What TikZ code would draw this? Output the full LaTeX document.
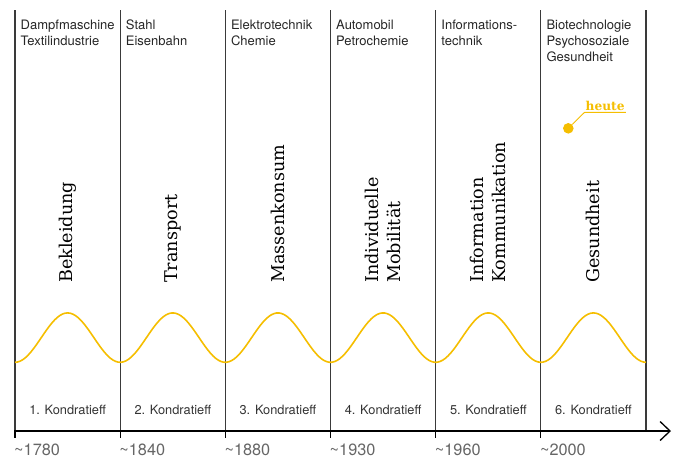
\documentclass[tikz,border=0pt]{standalone}
\usepackage{fontspec}
\usepackage{tikz}
\usetikzlibrary{arrows.meta}
\newfontfamily\epochfont{TeX Gyre Heros}
\newfontfamily\themefont{DejaVu Serif}
\definecolor{wellengelb}{HTML}{F5BE00}
\definecolor{trenngrau}{HTML}{3A3A3A}
\tikzset{
	trenner/.style={line width=1.1pt, color=trenngrau},
	zeitachse/.style={line width=1.3pt, color=black, -{Straight Barb[length=10pt,width=19pt,line width=1.3pt]}},
	strich/.style={line width=1.3pt, color=black},
	welle/.style={line width=1.6pt, color=wellengelb},
	branche/.style={anchor=north west, inner sep=0pt, align=left, color=black!85, font=\epochfont\fontsize{13}{16}\selectfont},
	zyklus/.style={anchor=base, inner sep=0pt, color=black!80, font=\epochfont\fontsize{12.8}{15}\selectfont},
	jahr/.style={anchor=base west, inner sep=0pt, color=black!60, font=\epochfont\fontsize{16.3}{20}\selectfont},
	thema/.style={anchor=west, rotate=90, inner sep=0pt, align=left, color=black, font=\themefont\fontsize{17.6}{22}\selectfont},
	heutetext/.style={anchor=base west, inner xsep=1pt, inner ysep=2pt, color=wellengelb, font=\themefont\bfseries\fontsize{12.2}{14}\selectfont},
	heutepunkt/.style={circle, fill=wellengelb, inner sep=0pt, minimum size=10.6pt}
}

\begin{document}
\begin{tikzpicture}[x=1pt, y=-1pt]
			%%%%% START %%%%%
			\useasboundingbox (0,0) rectangle (679,459);
			
			\draw[trenner] (15, 10) -- (15, 431);
			\draw[trenner] (120.2, 10) -- (120.2, 431);
			\draw[trenner] (225.3, 10) -- (225.3, 431);
			\draw[trenner] (330.5, 10) -- (330.5, 431);
			\draw[trenner] (435.7, 10) -- (435.7, 431);
			\draw[trenner] (540.8, 10) -- (540.8, 431);
			\draw[trenner] (646, 10) -- (646, 431);
			
			\node[branche] (b1) at (20.5, 19.5) {Dampfmaschine\\Textilindustrie};
			\node[branche] (b2) at (125.7, 19.5) {Stahl\\Eisenbahn};
			\node[branche] (b3) at (230.8, 19.5) {Elektrotechnik\\Chemie};
			\node[branche] (b4) at (336, 19.5) {Automobil\\Petrochemie};
			\node[branche] (b5) at (441.2, 19.5) {Informations-\\technik};
			\node[branche] (b6) at (546.3, 19.5) {Biotechnologie\\Psychosoziale\\Gesundheit};
			
			\node[thema] (t1) at (67.6, 283) {Bekleidung};
			\node[thema] (t2) at (172.8, 283) {Transport};
			\node[thema] (t3) at (277.9, 283) {Massenkonsum};
			\node[thema] (t4) at (383.1, 283) {Individuelle\\Mobilität};
			\node[thema] (t5) at (488.3, 283) {Information\\Kommunikation};
			\node[thema] (t6) at (593.4, 283) {Gesundheit};
			
			\node[heutetext] (heute) at (584.5, 110) {heute};
			\node[heutepunkt] (jetzt) at (568.3, 128.3) {};
			\draw[welle, line width=0.9pt] (jetzt) -- (heute.south west) -- (heute.south east);
			
			\draw[welle] plot[domain=15:646, samples=240] (\x, {337.6 + 24.7*cos(3.42303*(\x-15))});
			
			\node[zyklus] (k1) at (67.6, 414) {1. Kondratieff};
			\node[zyklus] (k2) at (172.8, 414) {2. Kondratieff};
			\node[zyklus] (k3) at (277.9, 414) {3. Kondratieff};
			\node[zyklus] (k4) at (383.1, 414) {4. Kondratieff};
			\node[zyklus] (k5) at (488.3, 414) {5. Kondratieff};
			\node[zyklus] (k6) at (593.4, 414) {6. Kondratieff};
			
			\draw[zeitachse] (14.4, 431) -- (671, 431);
			\draw[strich] (15, 431) -- (15, 438);
			\draw[strich] (120.2, 431) -- (120.2, 438);
			\draw[strich] (225.3, 431) -- (225.3, 438);
			\draw[strich] (330.5, 431) -- (330.5, 438);
			\draw[strich] (435.7, 431) -- (435.7, 438);
			\draw[strich] (540.8, 431) -- (540.8, 438);
			
			\node[jahr] (j1) at (14, 455.5) {\textasciitilde1780};
			\node[jahr] (j2) at (119.2, 455.5) {\textasciitilde1840};
			\node[jahr] (j3) at (224.3, 455.5) {\textasciitilde1880};
			\node[jahr] (j4) at (329.5, 455.5) {\textasciitilde1930};
			\node[jahr] (j5) at (434.7, 455.5) {\textasciitilde1960};
			\node[jahr] (j6) at (539.8, 455.5) {\textasciitilde2000};
			
			%%%%% END %%%%%
		\end{tikzpicture}
\end{document}
